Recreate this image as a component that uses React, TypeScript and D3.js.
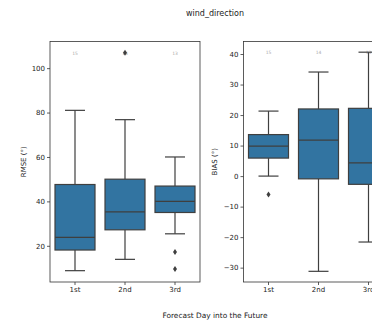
import React, { useEffect, useRef } from 'react';
import * as d3 from 'd3';

// forecast days
const days = ['1st', '2nd', '3rd'];

// RMSE box stats: [whiskerLow, q1, median, q3, whiskerHigh]
const rmseStats = [
    [8.8, 18.1, 23.8, 47.6, 81],
    [13.9, 27.2, 35.3, 50, 76.8],
    [25.4, 35, 40, 46.9, 60],
];
const rmseOutliers = [[], [106.9], [17.2, 9.5]];
const rmseCounts = [15, 14, 13];
const rmseTicks = [20, 40, 60, 80, 100];

// BIAS box stats
const biasStats = [
    [0, 5.9, 9.8, 13.6, 21.3],
    [-31.2, -0.9, 11.8, 22, 34.1],
    [-21.6, -2.7, 4.3, 22.2, 40.6],
];
const biasOutliers = [[-6], [], []];
const biasCounts = [15, 14, 13];
const biasTicks = [-30, -20, -10, 0, 10, 20, 30, 40];

const BOX_FILL = '#3274a1';
const LINE = '#3f3f3f';
const FONT = 'DejaVu Sans, sans-serif';

const App = () => {
    const svgRef = useRef();

    useEffect(() => {
        const svg = d3.select(svgRef.current);
        svg.selectAll('*').remove();

        const top = 41.5;
        const bottom = 282;

        const drawPanel = (left, domain, stats, outliers, counts, ticks, countVal, label, labelX) => {
            const x = d3.scaleBand().domain(days).range([left, left + 150]);
            const y = d3.scaleLinear().domain(domain).range([bottom, top]);
            const g = svg.append('g');
            const bw = x.bandwidth() * 0.8;

            // counts (drawn first so marks sit on top)
            g.selectAll('.cnt')
                .data(days)
                .enter()
                .append('text')
                .attr('x', d => x(d) + x.bandwidth() / 2)
                .attr('y', y(countVal) + 2)
                .attr('text-anchor', 'middle')
                .attr('font-size', 4.5)
                .attr('font-family', FONT)
                .attr('fill', '#aaa')
                .text((d, i) => counts[i]);

            days.forEach((d, i) => {
                const [lo, q1, med, q3, hi] = stats[i];
                const cx = x(d) + x.bandwidth() / 2;
                const bg = g.append('g').attr('stroke', LINE).attr('stroke-width', 1.2);
                bg.append('line').attr('x1', cx).attr('x2', cx).attr('y1', y(q3)).attr('y2', y(hi));
                bg.append('line').attr('x1', cx).attr('x2', cx).attr('y1', y(q1)).attr('y2', y(lo));
                bg.append('line').attr('x1', cx - bw / 4).attr('x2', cx + bw / 4).attr('y1', y(hi)).attr('y2', y(hi));
                bg.append('line').attr('x1', cx - bw / 4).attr('x2', cx + bw / 4).attr('y1', y(lo)).attr('y2', y(lo));
                bg.append('rect')
                    .attr('x', cx - bw / 2)
                    .attr('y', y(q3))
                    .attr('width', bw)
                    .attr('height', y(q1) - y(q3))
                    .attr('fill', BOX_FILL);
                bg.append('line').attr('x1', cx - bw / 2).attr('x2', cx + bw / 2).attr('y1', y(med)).attr('y2', y(med));
                outliers[i].forEach(v => {
                    const py = y(v);
                    g.append('path')
                        .attr('d', `M${cx},${py - 3}L${cx + 2},${py}L${cx},${py + 3}L${cx - 2},${py}Z`)
                        .attr('fill', LINE);
                });
            });

            // frame
            g.append('rect')
                .attr('x', left)
                .attr('y', top)
                .attr('width', 150)
                .attr('height', bottom - top)
                .attr('fill', 'none')
                .attr('stroke', '#333')
                .attr('stroke-width', 0.8);

            const yAxis = d3.axisLeft(y).tickValues(ticks).tickSize(3).tickPadding(2).tickFormat(d3.format('d'));
            const ya = g.append('g').attr('transform', `translate(${left},0)`).call(yAxis);
            const xAxis = d3.axisBottom(x).tickSize(3).tickPadding(2);
            const xa = g.append('g').attr('transform', `translate(0,${bottom})`).call(xAxis);
            [ya, xa].forEach(a => {
                a.select('.domain').remove();
                a.selectAll('line').attr('stroke', '#333').attr('stroke-width', 0.8);
                a.selectAll('text').attr('font-size', 7).attr('font-family', FONT).attr('fill', '#222');
            });
            ya.selectAll('text').text(d => (d < 0 ? '\u2212' + Math.abs(d) : d));

            g.append('text')
                .attr('transform', `translate(${labelX},${(top + bottom) / 2}) rotate(-90)`)
                .attr('text-anchor', 'middle')
                .attr('font-size', 7)
                .attr('font-family', FONT)
                .attr('fill', '#222')
                .text(label);
        };

        drawPanel(50, [3.7, 112], rmseStats, rmseOutliers, rmseCounts, rmseTicks, 106.9, 'RMSE (°)', 26);
        drawPanel(243.5, [-34.7, 44.1], biasStats, biasOutliers, biasCounts, biasTicks, 40.6, 'BIAS (°)', 217);

        svg.append('text')
            .attr('x', 215)
            .attr('y', 16)
            .attr('text-anchor', 'middle')
            .attr('font-size', 8)
            .attr('font-family', FONT)
            .attr('fill', '#222')
            .text('wind_direction');

        svg.append('text')
            .attr('x', 215)
            .attr('y', 318)
            .attr('text-anchor', 'middle')
            .attr('font-size', 7.4)
            .attr('font-family', FONT)
            .attr('fill', '#222')
            .text('Forecast Day into the Future');
    }, []);

    return (
        <svg
            ref={svgRef}
            width={372}
            height={321}
            style={{ position: 'absolute', left: 0, top: 0, background: '#fff' }}
        ></svg>
    );
};

export default App;
